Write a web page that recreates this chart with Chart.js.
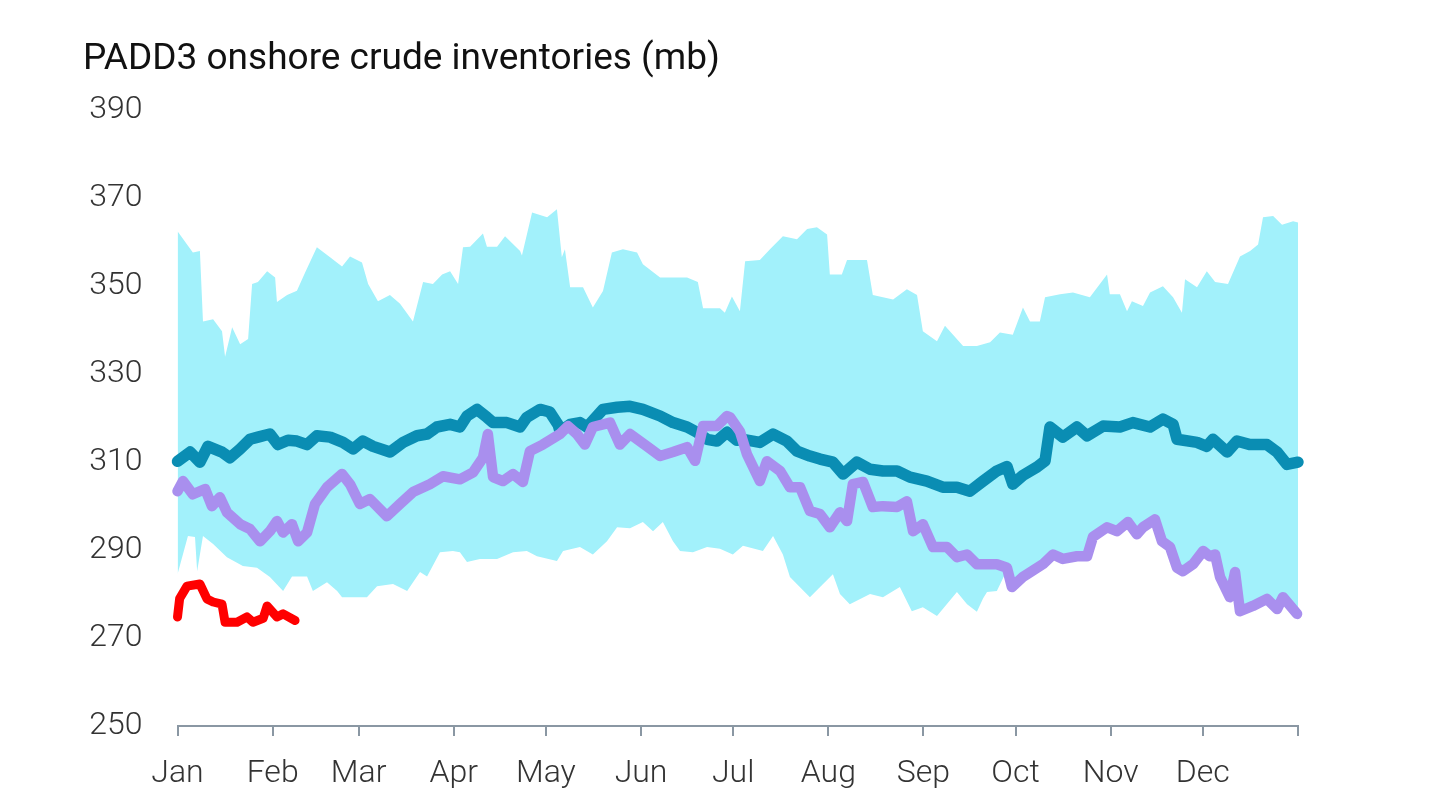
<!DOCTYPE html>
<html>
<head>
<meta charset="utf-8">
<script src="https://cdn.jsdelivr.net/npm/chart.js@4.4.1/dist/chart.umd.min.js"></script>
<style>
html,body{margin:0;padding:0;background:#fff;}
#wrap{position:relative;width:1456px;height:803px;}
</style>
</head>
<body>
<div id="wrap"><canvas id="c" width="1456" height="803"></canvas></div>
<script>
// ---- DATA (x = day of year, y = million barrels) ----
const titleText = 'PADD3 onshore crude inventories (mb)';
const monthLabels = ['Jan','Feb','Mar','Apr','May','Jun','Jul','Aug','Sep','Oct','Nov','Dec',''];
const monthStartDays = [0,31,59,90,120,151,181,212,243,273,304,334,365];
const yTicks = [250,270,290,310,330,350,370,390];

// 5-year range, upper edge
const rangeMaxDays = [0,5,7.3,8.3,11.6,14.5,15.5,17.8,20.4,23,24.3,26.2,29.2,31.8,32.4,35.7,38.9,41.5,45.4,49.7,53.6,56.2,60.1,62.1,65.3,69.2,72.5,76.7,80,83.2,86.2,88.8,91.4,93,95.3,99.5,100.8,104.1,106.7,111.6,112.2,115.5,120.4,123.6,125.2,126.2,127.9,132.1,135.3,138.6,141.5,145.1,149.7,151.6,157.2,161.4,166,169.5,171.2,176.7,178.3,180.6,183.2,184.9,189.7,193,197.2,201.8,205.1,208.3,211.6,212.5,216.4,218.1,224.6,226.5,233.1,237.6,240.9,242.8,247.4,250,255.9,260.4,264.7,267.9,272.1,275.4,277.7,280.9,282.6,287.5,291.7,297.2,302.8,303.7,307,309.3,310.9,314.5,316.8,321,324.3,327.2,328.2,332.1,335.3,338,342.2,346.1,349.4,352,353.6,356.9,359.8,363.4,365];
const rangeMaxValues = [362.5,357.7,358,342,342.5,339.8,334,340.7,336.8,338,350.5,351,353.4,352,346.4,348,349,353,358.9,356.6,354.5,356.8,355.4,350.5,346.6,348,346,342,351,350.5,352.7,353.4,350.5,358.9,359,362,359,359,361.4,358,357,366.8,365.7,367.5,356.6,358.4,349.8,349.8,345.2,348.9,357.7,358.4,357.7,355,352,352,352,351,345,345,344,347.7,344.3,355.7,356,358.4,361.4,360.7,363,363.4,361.8,352.7,352.7,356,356,348,347,349.3,348,339.8,337.5,341,336.4,336.4,337.3,339.5,339,345.2,342,342,347.5,348.2,348.6,347.5,352.7,348.2,348.2,344.3,346.6,345.5,348.6,350,347.5,344,351.6,349.8,353.4,351,350.5,356.8,358,359.5,365.7,366,364,364.8,364.5];

// 5-year range, lower edge
const rangeMinDays = [0,3.4,5.7,6.4,8.3,11.6,16.1,21.3,25.9,30.1,34.4,37.3,42.2,44.1,48.7,52,53.6,61.7,65,70.2,74.8,79,81.3,85.5,89.7,92,94.3,98.5,104.1,109.3,113.8,117.1,123.6,125.6,131.1,135.3,139.9,143.2,147.4,151.6,154.9,158.1,161.4,163.7,167.9,172.5,176.7,180.9,184.2,190.7,194,197.2,199.5,206,210.3,213.5,215.8,219,225.6,229.8,235.3,239.2,242.8,247.4,253.9,257.2,260.4,262.4,263.7,266.9,268,270.2,271.8,275.4,276.7,281.9,285.2,288.4,293,296.3,298.2,302.8,306,309.6,312.5,314.5,318.4,320.7,323.3,325.6,327.5,330.8,334.1,336.3,338,339.6,342.8,344.5,346.1,350.3,354.9,358.2,360.1,364.7,365];
const rangeMinValues = [284.5,293.2,293,285.2,293.2,291.4,288.4,286.4,286,283.9,280.7,284,284,280.7,282.7,280.7,279.3,279.3,281.8,282.3,280.7,285,284,289.5,289.8,289.5,287.3,288,288,289.5,289.8,288.6,287.5,289.8,290.7,289,292,295.2,295,296.4,294.3,296.4,292,289.8,289.5,290.7,290.3,289,291,289.8,293.2,289,283.9,279.3,282.3,284.5,280,277.7,280,279.3,281.6,276.1,277,275,280.5,277.7,276,279,280.5,280.7,282.3,285.5,281.2,283.5,284.1,286.4,288.6,287.6,288.2,288.2,292.6,294.8,293.9,296,293.2,294.8,296.6,291.6,290.3,285.6,284.8,286.4,289.4,288.2,288.6,283.5,278.9,284.6,275.7,276.9,278.5,276.2,278.9,275.1,275.1];

// 5-year average
const avgDays = [0,4.1,7.3,9.9,14.5,17.1,20.4,23.6,26.2,30.1,32.7,36,38.9,42.2,45.4,49.7,53.9,57.2,60.4,63.7,69.2,73.5,78,81.3,84.5,88.8,92,94.3,97.6,100.8,102.8,107.3,111.6,113.8,118.1,121.3,124,124.6,127.9,131.1,133.4,138.6,143.2,147.4,151.6,157.2,161.4,166,169.2,172.5,175.7,179,182.2,184.2,189.7,194,198.5,201.8,206,209.3,213.5,216.8,221.3,225.6,229.8,234.4,238.6,244.1,249.3,253.9,258.1,262.4,266.9,270.2,272.1,275.4,280,282.6,284.2,288.4,293,296.3,301.5,307,311.2,316.8,321,324.3,325.6,332.1,335.3,337.3,341.9,345.1,349.4,354.9,358.2,361.4,365];
const avgValues = [310.2,312.3,310,313.6,312.3,311,313,315.2,315.7,316.4,314,315,314.8,314,316,315.7,314.5,313,314.8,313.6,312.3,314.5,316,316.4,318,318.6,318,320.5,322,320.2,319,319,318,320.2,322,321.4,318.5,317,318.6,319,318,322,322.5,322.7,322,320.5,319,318,316.8,315.2,314.8,316.8,315,315.2,314.5,316.4,314.8,312.5,311.4,310.7,310,307.3,310,308.4,308,308,306.6,305.7,304.3,304.3,303.4,305.7,308,309,305,307,308.9,310.3,318,315.7,318,316,318.2,318,319,318,319.8,318.6,315.2,314.5,313.6,315.2,312.3,314.8,314,314,312.3,309.5,310];

// last year
const lastYearDays = [0,1.8,5,9,11.2,13.8,16.1,20.4,23.6,26.9,30.1,32.4,34.4,37.3,39.3,42.2,44.8,48.7,53.6,56.2,59.4,62.7,68.2,72.5,76.7,82.2,86.5,92,96.3,99.5,101.1,102.8,106,109.3,112.5,114.8,119,124.6,127.2,130.1,132.7,135.3,140.9,144.1,147.4,152.9,157.2,161.4,166,168.6,171.2,175.7,179,180,183.2,185.5,189.7,192,196.3,199.5,202.8,206,209.3,212.5,215.8,218.1,220,223.3,226.5,229.8,234.4,237.6,239.6,242.8,246.1,250.7,253.9,257.2,260.4,266.9,270.2,271.8,275.4,276.7,281.9,285.2,288.4,293,296.3,298.2,302.8,306,309.6,312.5,314.5,318.4,320.7,323.3,325.6,327.5,330.8,334.1,336.3,338,339.6,342.8,344.5,346.1,350.3,354.9,358.2,360.1,364.7];
const lastYearValues = [303.4,305.7,302.7,303.9,300,302,298.6,295.9,294.8,292,294.3,296.6,294,295.9,292,294,300.5,304.3,307.3,305,300.5,301.6,297.7,300.5,303.2,305,306.8,306.1,307.7,311,316.4,306.6,305.7,307.3,305.5,312.5,314,316.4,318.2,316.4,314,318,319,314,316.4,313.6,311.4,312.3,313.4,310.3,318.2,318.2,320.5,320.2,317,311.8,305.7,310.2,308,304.3,304.3,298.9,298.2,295.2,298.6,296.6,305,305.5,299.8,300,299.8,301.1,294.3,295.9,290.7,290.7,288.4,289,286.8,286.8,286,281.6,283.9,284.5,286.8,289,288,288.6,288.6,293,295.2,294.3,296.4,293.6,295.2,297,292,290.7,286,285.2,286.8,289.8,288.6,289,283.9,279.3,285,276.1,277.3,278.9,276.6,279.3,275.5];

// current year
const thisYearDays = [0,0.7,3.1,7.3,9.6,11.6,14.5,15.5,19.4,22.6,24.6,27.9,29.2,32.4,34.4,38.3];
const thisYearValues = [274.8,279,281.8,282.3,278.9,278.2,277.7,273.6,273.6,274.8,273.6,274.5,277.3,274.8,275.5,274];

// ---- build ----
const pts = (xs, ys) => xs.map((x, i) => ({x: x, y: ys[i]}));
const tickFont = {family: 'Roboto', size: 32, weight: '300'};

const lineStyle = {
  pointRadius: 0, pointHoverRadius: 0, tension: 0, fill: false,
  borderCapStyle: 'round', borderJoinStyle: 'round', clip: false
};

new Chart(document.getElementById('c'), {
  type: 'line',
  data: {
    datasets: [
      Object.assign({label: 'This year', data: pts(thisYearDays, thisYearValues), borderColor: '#ff0000', borderWidth: 9, order: 1}, lineStyle),
      Object.assign({label: 'Last year', data: pts(lastYearDays, lastYearValues), borderColor: '#a98fee', borderWidth: 10.5, order: 2}, lineStyle),
      Object.assign({label: '5-yr average', data: pts(avgDays, avgValues), borderColor: '#0a8db3', borderWidth: 11.5, order: 3}, lineStyle),
      {label: '5-yr max', data: pts(rangeMaxDays, rangeMaxValues), borderWidth: 0, pointRadius: 0, tension: 0,
       backgroundColor: '#a2f1fb', fill: '+1', order: 10},
      {label: '5-yr min', data: pts(rangeMinDays, rangeMinValues), borderWidth: 0, pointRadius: 0, tension: 0,
       fill: false, order: 11}
    ]
  },
  options: {
    responsive: false,
    animation: false,
    events: [],
    layout: {padding: {left: 83, right: 158, top: 0, bottom: 0}},
    plugins: {
      legend: {display: false},
      tooltip: {enabled: false},
      title: {
        display: true, text: titleText, align: 'start', color: '#111111',
        font: {family: 'Roboto', size: 37, weight: '400'},
        padding: {top: 38, bottom: 28}
      }
    },
    scales: {
      x: {
        type: 'linear', min: 0, max: 365,
        afterBuildTicks: s => { s.ticks = monthStartDays.map(v => ({value: v})); },
        afterFit: s => { s.height = 77; },
        ticks: {
          autoSkip: false, maxRotation: 0, padding: 19, color: '#333333', font: tickFont,
          callback: v => monthLabels[monthStartDays.indexOf(v)] || ''
        },
        grid: {display: true, drawOnChartArea: false, drawTicks: true, tickLength: 10, color: '#8a97a3', lineWidth: 2},
        border: {display: true, color: '#8a97a3', width: 2}
      },
      y: {
        min: 250, max: 390,
        afterBuildTicks: s => { s.ticks = yTicks.map(v => ({value: v})); },
        afterFit: s => { s.width = 94.5; },
        ticks: {padding: 35, color: '#333333', font: tickFont},
        grid: {display: false, drawTicks: false},
        border: {display: false}
      }
    }
  }
});
</script>
</body>
</html>
